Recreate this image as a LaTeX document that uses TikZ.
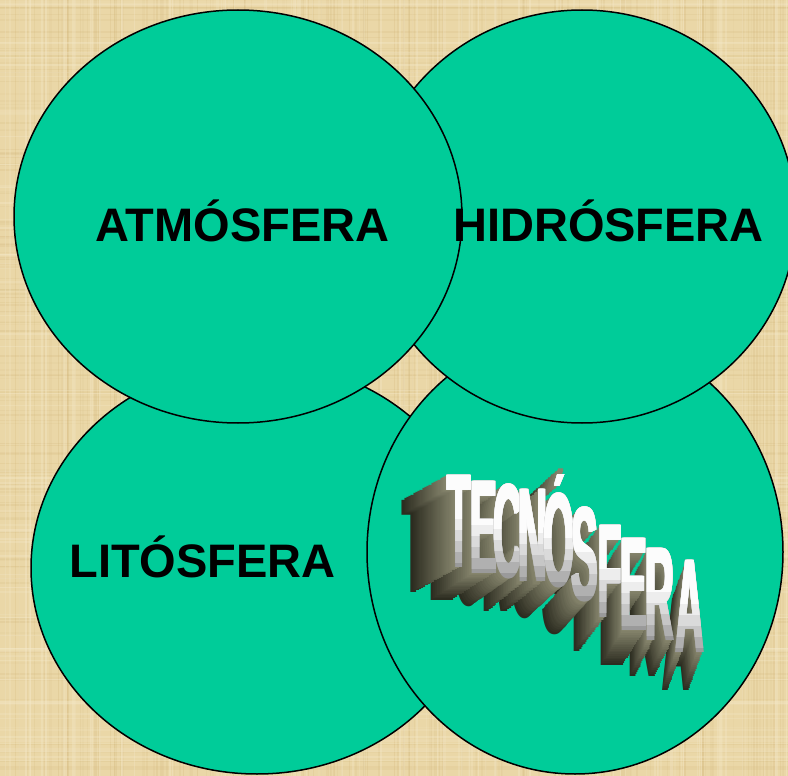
\documentclass[tikz,border=0pt]{standalone}
\usepackage{fontspec}
\setmainfont{Liberation Sans}
\usepackage{graphicx}
\definecolor{sph}{HTML}{00CC99}
\definecolor{bgbase}{HTML}{EAD7A7}
\definecolor{bgdark}{HTML}{CFB274}
\definecolor{bglight}{HTML}{F6EBCD}
\definecolor{tecfar}{HTML}{2C2C20}
\definecolor{tecnear}{HTML}{8A8970}
\definecolor{tg0}{HTML}{9A9A9A}
\definecolor{tg1}{HTML}{B0B0B0}
\definecolor{tg2}{HTML}{C6C6C6}
\definecolor{tg3}{HTML}{DADADA}
\definecolor{tg4}{HTML}{EDEDED}
\definecolor{tg5}{HTML}{FCFCFC}
\newcommand\tecbox[1]{\scalebox{0.85}[2.85]{#1}}
\newcommand\tecletters{459/567/45/25/T, 484/573/42/27/E, 508/577/40/28/C,
  533/581/37/30/N, 559/586/34/31/Ó, 585/600/30/33/S, 610/617/26/34/F,
  634/630/22/35/E, 660/640/18/36/R, 690/652/14/38/A}
\begin{document}
\begin{tikzpicture}[x=1pt,y=-1pt,
  sphere/.style={fill=sph, draw=black, line width=1.5pt},
  label/.style={anchor=base, inner sep=0pt, text=black,
    font=\fontsize{47}{56}\selectfont\bfseries},
  tecglyph/.style={anchor=base, inner sep=0pt,
    font=\fontsize{47}{56}\selectfont\bfseries}]
\useasboundingbox (0,0) rectangle (788,776);
% background
\fill[bgbase] (0,0) rectangle (788,776);
\begin{scope}
\clip (0,0) rectangle (788,776);
\pgfmathsetseed{42}
\foreach \i in {1,...,160}{
  \pgfmathsetmacro\xx{rnd*788}
  \pgfmathsetmacro\ww{0.5+rnd*1.8}
  \pgfmathsetmacro\oo{0.06+rnd*0.16}
  \draw[bgdark, line width=\ww pt, opacity=\oo] (\xx,0) -- (\xx,776);
}
\foreach \i in {1,...,120}{
  \pgfmathsetmacro\yy{rnd*776}
  \pgfmathsetmacro\ww{0.5+rnd*1.8}
  \pgfmathsetmacro\oo{0.06+rnd*0.14}
  \draw[bgdark, line width=\ww pt, opacity=\oo] (0,\yy) -- (788,\yy);
}
\foreach \i in {1,...,100}{
  \pgfmathsetmacro\xx{rnd*788}
  \pgfmathsetmacro\ww{0.5+rnd*1.8}
  \pgfmathsetmacro\oo{0.12+rnd*0.25}
  \draw[bglight, line width=\ww pt, opacity=\oo] (\xx,0) -- (\xx,776);
}
\foreach \i in {1,...,80}{
  \pgfmathsetmacro\yy{rnd*776}
  \pgfmathsetmacro\ww{0.5+rnd*1.8}
  \pgfmathsetmacro\oo{0.12+rnd*0.25}
  \draw[bglight, line width=\ww pt, opacity=\oo] (0,\yy) -- (788,\yy);
}
\end{scope}
% spheres, bottom to top
\draw[sphere] (257,568) ellipse [x radius=226pt, y radius=206pt];
\draw[sphere] (575,552) ellipse [x radius=208pt, y radius=222pt];
% TECNOSFERA 3D word: extrusion (far to near), then faces
\foreach \k in {20,19,...,1}{
  \pgfmathtruncatemacro\mixv{100*\k/20}
  \foreach \x/\y/\dx/\dy/\ch in \tecletters{
    \node[tecglyph, text=tecfar!\mixv!tecnear] at ({\x-\k*\dx/20},{\y+\k*\dy/20}) {\tecbox{\ch}};
  }
}
\foreach \x/\y/\dx/\dy/\ch in \tecletters{
  \foreach \b/\c in {0/tg0,1/tg1,2/tg2,3/tg3,4/tg4,5/tg5}{
    \begin{scope}
      \clip ({\x-40},{\y+6-\b*11}) rectangle ({\x+40},{\y-112});
      \foreach \o in {-0.7,0,0.7}{
        \node[tecglyph, text=\c] at ({\x+\o},\y) {\tecbox{\ch}};
      }
    \end{scope}
  }
}
\draw[sphere] (582,216.5) ellipse [x radius=214pt, y radius=206.5pt];
\draw[sphere] (238,216.5) ellipse [x radius=224pt, y radius=206.5pt];
% labels
\node[label] (atm) at (242.5,241) {ATMÓSFERA};
\node[label] (hid) at (608.5,241) {HIDRÓSFERA};
\node[label] (lit) at (202.5,577) {LITÓSFERA};
\end{tikzpicture}
\end{document}
